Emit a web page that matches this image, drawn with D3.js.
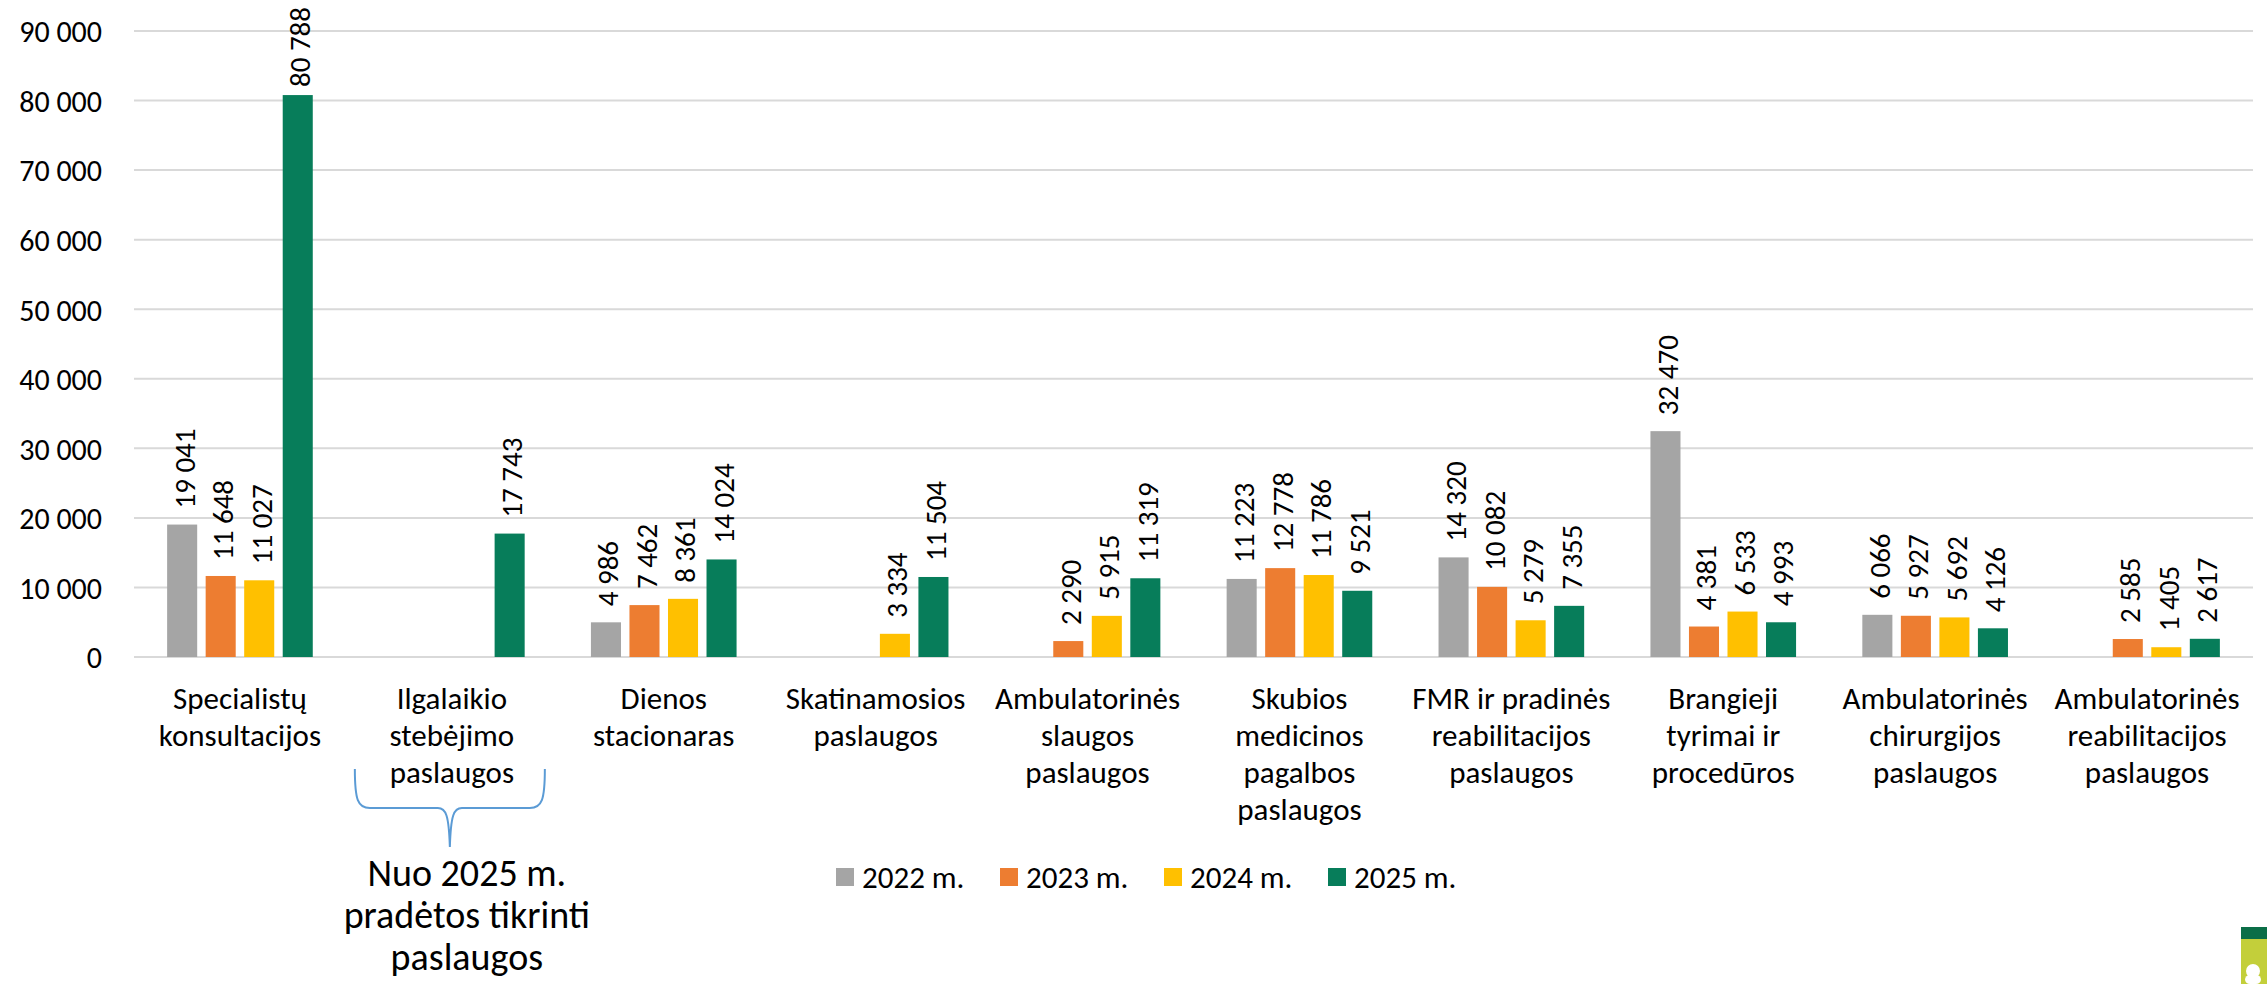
<!DOCTYPE html>
<html>
<head>
<meta charset="utf-8">
<script src="https://cdn.jsdelivr.net/npm/d3@7"></script>
<style>
  body { margin: 0; background: #fff; }
  svg { display: block; font-family: Carlito, Lato, sans-serif; }
</style>
</head>
<body>
<main></main>
<script>
const categories = [
  "Specialistų konsultacijos",
  "Ilgalaikio stebėjimo paslaugos",
  "Dienos stacionaras",
  "Skatinamosios paslaugos",
  "Ambulatorinės slaugos paslaugos",
  "Skubios medicinos pagalbos paslaugos",
  "FMR ir pradinės reabilitacijos paslaugos",
  "Brangieji tyrimai ir procedūros",
  "Ambulatorinės chirurgijos paslaugos",
  "Ambulatorinės reabilitacijos paslaugos"
];

const categoryLines = [
  ["Specialistų", "konsultacijos"],
  ["Ilgalaikio", "stebėjimo", "paslaugos"],
  ["Dienos", "stacionaras"],
  ["Skatinamosios", "paslaugos"],
  ["Ambulatorinės", "slaugos", "paslaugos"],
  ["Skubios", "medicinos", "pagalbos", "paslaugos"],
  ["FMR ir pradinės", "reabilitacijos", "paslaugos"],
  ["Brangieji", "tyrimai ir", "procedūros"],
  ["Ambulatorinės", "chirurgijos", "paslaugos"],
  ["Ambulatorinės", "reabilitacijos", "paslaugos"]
];

const seriesNames = ["2022 m.", "2023 m.", "2024 m.", "2025 m."];
const seriesColors = ["#A5A5A5", "#ED7D31", "#FFC000", "#077D5A"];

// null = no value for that year
const values2022 = [19041, null, 4986, null, null, 11223, 14320, 32470, 6066, null];
const values2023 = [11648, null, 7462, null, 2290, 12778, 10082, 4381, 5927, 2585];
const values2024 = [11027, null, 8361, 3334, 5915, 11786, 5279, 6533, 5692, 1405];
const values2025 = [80788, 17743, 14024, 11504, 11319, 9521, 7355, 4993, 4126, 2617];

const yTicks = [0, 10000, 20000, 30000, 40000, 50000, 60000, 70000, 80000, 90000];

const annotationLines = ["Nuo 2025 m.", "pradėtos tikrinti", "paslaugos"];

const W = 2267;
const H = 984;
const plotLeft = 134;
const plotRight = 2253;
const plotTop = 31;
const plotBottom = 657;

const allSeries = [values2022, values2023, values2024, values2025];

const data = [];
categories.forEach((c, i) => {
  allSeries.forEach((s, j) => {
    if (s[i] != null) data.push({ cat: c, series: seriesNames[j], value: s[i], color: seriesColors[j] });
  });
});

const locale = d3.formatLocale({ decimal: ",", thousands: " ", grouping: [3], currency: ["", ""] });
const fmt = locale.format(",d");

const x0 = d3.scaleBand().domain(categories).range([plotLeft, plotRight]).padding(0);
const x1 = d3.scaleBand().domain(seriesNames).range([0, x0.bandwidth()])
  .paddingInner(0.22).paddingOuter(0.86);
const y = d3.scaleLinear().domain([0, 90000]).range([plotBottom, plotTop]);

const svg = d3.select("main").append("svg")
  .attr("width", W)
  .attr("height", H);

svg.append("rect").attr("width", W).attr("height", H).attr("fill", "#fff");

// gridlines
svg.append("g")
  .selectAll("line")
  .data(yTicks)
  .enter()
  .append("line")
  .attr("x1", plotLeft)
  .attr("x2", plotRight)
  .attr("y1", d => y(d))
  .attr("y2", d => y(d))
  .attr("stroke", "#D9D9D9")
  .attr("stroke-width", 2);

// y axis labels
const yAxis = svg.append("g")
  .attr("transform", `translate(${plotLeft - 32},0)`)
  .call(d3.axisLeft(y).tickValues(yTicks).tickFormat(fmt).tickSize(0).tickPadding(0));
yAxis.select(".domain").remove();
yAxis.selectAll("text")
  .style("font-family", "Carlito, Lato, sans-serif")
  .style("font-size", "30px")
  .attr("fill", "#000")
  .attr("dy", "0.36em");

// bars
svg.append("g")
  .selectAll("rect")
  .data(data)
  .enter()
  .append("rect")
  .attr("x", d => x0(d.cat) + x1(d.series))
  .attr("y", d => y(d.value))
  .attr("width", x1.bandwidth())
  .attr("height", d => y(0) - y(d.value))
  .attr("fill", d => d.color);

// value labels, rotated
svg.append("g")
  .selectAll("text")
  .data(data)
  .enter()
  .append("text")
  .style("font-size", "29px")
  .attr("text-anchor", "start")
  .attr("dy", "0.36em")
  .text(d => fmt(d.value))
  .each(function(d) {
    const len = this.getComputedTextLength();
    let start = y(d.value) - 16;
    if (start - len < 7) start = len + 7;
    const cx = x0(d.cat) + x1(d.series) + x1.bandwidth() / 2 + 2;
    d3.select(this).attr("transform", `translate(${cx},${start}) rotate(-90)`);
  });

// category labels
const catG = svg.append("g")
  .selectAll("text")
  .data(categories)
  .enter()
  .append("text")
  .attr("x", d => x0(d) + x0.bandwidth() / 2)
  .attr("y", 709)
  .attr("text-anchor", "middle")
  .style("font-size", "31px");
catG.selectAll("tspan")
  .data((d, i) => categoryLines[i])
  .enter()
  .append("tspan")
  .attr("x", function() { return d3.select(this.parentNode).attr("x"); })
  .attr("dy", (d, i) => (i === 0 ? 0 : 37))
  .text(d => d);

// brace under the second category
const bx = x0(categories[1]) + x0.bandwidth() / 2 - 2;
svg.append("path")
  .attr("d", `M${bx - 95},769 C${bx - 95},800 ${bx - 92},808 ${bx - 80},808 L${bx - 12},808 ` +
    `C${bx - 4},808 ${bx - 1},815 ${bx},847 C${bx + 1},815 ${bx + 4},808 ${bx + 12},808 ` +
    `L${bx + 80},808 C${bx + 92},808 ${bx + 95},800 ${bx + 95},769`)
  .attr("fill", "none")
  .attr("stroke", "#5B9BD5")
  .attr("stroke-width", 2);

// annotation text
svg.append("g")
  .selectAll("text")
  .data(annotationLines)
  .enter()
  .append("text")
  .attr("x", bx + 17)
  .attr("y", (d, i) => 886 + i * 42)
  .attr("text-anchor", "middle")
  .style("font-size", "38px")
  .text(d => d);

// legend
const legend = svg.append("g")
  .selectAll("g")
  .data(seriesNames)
  .enter()
  .append("g")
  .attr("transform", (d, i) => `translate(${836 + i * 164},868)`);
legend.append("rect")
  .attr("width", 18)
  .attr("height", 18)
  .attr("fill", (d, i) => seriesColors[i]);
legend.append("text")
  .attr("x", 26)
  .attr("y", 9)
  .attr("dy", "0.36em")
  .style("font-size", "31px")
  .text(d => d);

// small logo in the corner
const logo = svg.append("g").attr("transform", "translate(2241,927)");
logo.append("rect").attr("width", 26).attr("height", 57).attr("fill", "#C3CF3A");
logo.append("rect").attr("width", 26).attr("height", 12).attr("fill", "#0B6E47");
logo.append("circle").attr("cx", 12).attr("cy", 44).attr("r", 7).attr("fill", "#fff");
logo.append("rect").attr("x", 4).attr("y", 48).attr("width", 16).attr("height", 9).attr("rx", 5).attr("fill", "#fff");
</script>
</body>
</html>
